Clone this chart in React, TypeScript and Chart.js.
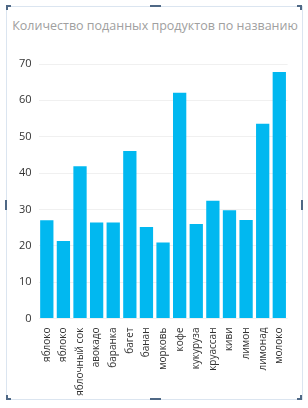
import React, { useEffect, useRef } from "react";
import { Chart, registerables } from "chart.js";

Chart.register(...registerables);

const titleText = "Количество поданных продуктов по названию";
const categories = [
  "яблоко",
  "яблоко",
  "яблочный сок",
  "авокадо",
  "баранка",
  "багет",
  "банан",
  "морковь",
  "кофе",
  "кукуруза",
  "круассан",
  "киви",
  "лимон",
  "лимонад",
  "молоко",
];
const values = [27, 21.3, 41.9, 26.4, 26.4, 46.1, 25.2, 20.9, 62.1, 26, 32.4, 29.8, 27.1, 53.6, 67.8];
const yTicks = { min: 0, max: 70, step: 10 };

const FONT = "'Segoe UI', 'Open Sans', 'DejaVu Sans', sans-serif";
const frameColor = "#dbe5f0";
const markColor = "#4f6885";

function Mark(props: { style: React.CSSProperties }) {
  return <div style={{ position: "absolute", background: markColor, ...props.style }} />;
}

export default function App() {
  const ref = useRef<HTMLCanvasElement | null>(null);

  useEffect(() => {
    if (!ref.current) return;
    const chart = new Chart(ref.current, {
      type: "bar",
      data: {
        labels: categories,
        datasets: [
          {
            data: values,
            backgroundColor: "#01b8f0",
            borderWidth: 0,
            barPercentage: 0.8,
            categoryPercentage: 1,
          },
        ],
      },
      options: {
        animation: false,
        responsive: false,
        maintainAspectRatio: false,
        layout: { padding: { left: 0, right: 20.4, top: 64, bottom: 0 } },
        plugins: {
          legend: { display: false },
          tooltip: { enabled: false },
          title: { display: false },
        },
        scales: {
          x: {
            grid: { display: false, drawTicks: false },
            border: { display: false },
            ticks: {
              color: "#333333",
              font: { family: FONT, size: 10 },
              minRotation: 90,
              maxRotation: 90,
              padding: 9,
              autoSkip: false,
            },
            afterFit: (scale: any) => {
              scale.height = 89.5;
            },
          },
          y: {
            min: yTicks.min,
            max: yTicks.max,
            grid: { color: "#f0f0f0", drawTicks: false, lineWidth: 1 },
            border: { display: false },
            ticks: {
              stepSize: yTicks.step,
              color: "#333333",
              font: { family: FONT, size: 11 },
              padding: 7,
            },
            afterFit: (scale: any) => {
              scale.width = 38.5;
            },
          },
        },
      },
    });
    return () => chart.destroy();
  }, []);

  return (
    <div style={{ position: "fixed", left: 0, top: 0, width: 308, height: 408, background: "#ffffff" }}>
      <div
        style={{
          position: "absolute",
          left: 6,
          top: 6,
          width: 295,
          height: 392,
          border: `1px solid ${frameColor}`,
        }}
      />
      <div
        style={{
          position: "absolute",
          left: 0,
          width: 310,
          top: 16,
          height: 20,
          lineHeight: "20px",
          textAlign: "center",
          whiteSpace: "nowrap",
          fontFamily: FONT,
          fontSize: 12.5,
          color: "#a0a0a0",
        }}
      >
        {titleText}
      </div>
      <canvas ref={ref} width={308} height={408} style={{ position: "absolute", left: 0, top: 0 }} />
      <Mark style={{ left: 6, top: 5, width: 5, height: 2 }} />
      <Mark style={{ left: 6, top: 5, width: 2, height: 5 }} />
      <Mark style={{ left: 297, top: 5, width: 5, height: 2 }} />
      <Mark style={{ left: 300, top: 5, width: 2, height: 5 }} />
      <Mark style={{ left: 6, top: 398, width: 5, height: 2 }} />
      <Mark style={{ left: 6, top: 395, width: 2, height: 5 }} />
      <Mark style={{ left: 297, top: 398, width: 5, height: 2 }} />
      <Mark style={{ left: 300, top: 395, width: 2, height: 5 }} />
      <Mark style={{ left: 150, top: 5, width: 11, height: 2 }} />
      <Mark style={{ left: 150, top: 398, width: 11, height: 2 }} />
      <Mark style={{ left: 5, top: 200, width: 2, height: 10 }} />
      <Mark style={{ left: 301, top: 200, width: 2, height: 10 }} />
    </div>
  );
}
